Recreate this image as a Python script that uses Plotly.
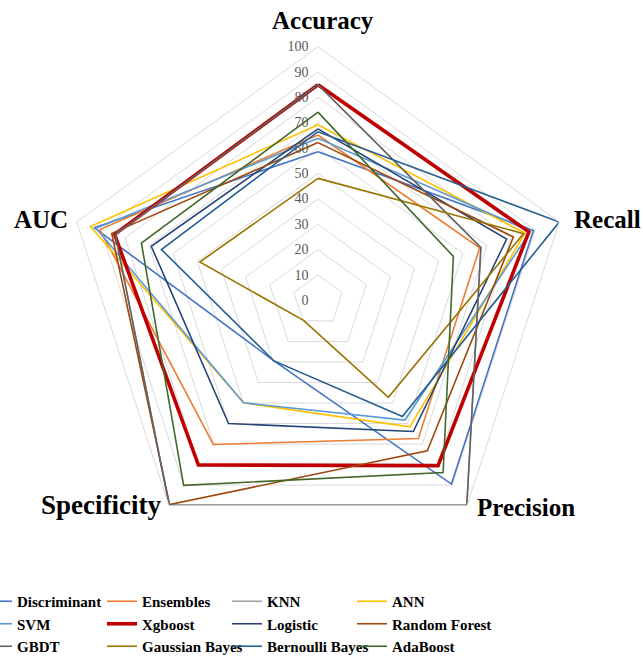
import plotly.graph_objects as go

axes = ["Accuracy", "Recall", "Precision", "Specificity", "AUC"]
radial_ticks = [0, 10, 20, 30, 40, 50, 60, 70, 80, 90, 100]

discriminant = [58.6, 89.3, 89.5, 29.5, 92.8]
ensembles = [65.2, 67.0, 67.3, 70.2, 90.4]
knn = [85.0, 67.5, 99.8, 99.8, 84.0]
ann = [69.2, 85.8, 61.6, 49.9, 94.3]
svm = [63.9, 88.0, 58.3, 49.9, 92.0]
xgboost = [85.0, 87.4, 80.5, 80.2, 84.3]
logistic = [67.6, 78.2, 63.9, 60.0, 69.1]
random_forest = [62.2, 81.0, 73.3, 99.5, 85.5]
gbdt = [85.0, 67.5, 99.8, 99.8, 84.0]
gaussian_bayes = [48.1, 85.2, 47.2, 9.7, 49.0]
bernoulli_bayes = [66.5, 100.0, 56.6, 29.5, 64.9]
adaboost = [74.2, 56.1, 83.9, 90.1, 73.2]

# (name, values, colour, width, legend column)
series = [
    ("Discriminant", discriminant, "#4472C4", 1.6, "legend"),
    ("Ensembles", ensembles, "#ED7D31", 1.6, "legend2"),
    ("KNN", knn, "#A5A5A5", 1.6, "legend3"),
    ("ANN", ann, "#FFC000", 1.6, "legend4"),
    ("SVM", svm, "#5B9BD5", 1.6, "legend"),
    ("Xgboost", xgboost, "#C00000", 3.6, "legend2"),
    ("Logistic", logistic, "#264478", 1.6, "legend3"),
    ("Random Forest", random_forest, "#9E480E", 1.6, "legend4"),
    ("GBDT", gbdt, "#636363", 1.6, "legend"),
    ("Gaussian Bayes", gaussian_bayes, "#997300", 1.6, "legend2"),
    ("Bernoulli Bayes", bernoulli_bayes, "#255E91", 1.6, "legend3"),
    ("AdaBoost", adaboost, "#43682B", 1.6, "legend4"),
]

fig = go.Figure()
for name, vals, color, width, leg in series:
    fig.add_trace(go.Scatterpolar(
        r=vals + vals[:1],
        theta=axes + axes[:1],
        mode="lines",
        name=name,
        legend=leg,
        line=dict(color=color, width=width),
    ))

serif = "Liberation Serif, Times New Roman, serif"
W, H = 643, 658
ML, MR, MT, MB = 0, 60, 0, 70
PW, PH = W - ML - MR, H - MT - MB


def px(x):
    return (x - ML) / PW


def py(y):
    return (H - MB - y) / PH


legend_font = dict(family=serif, size=15, color="black", weight="bold")
legend_top = 585
col_text_x = [17, 142, 267, 392]
legends = {}
for i, key in enumerate(["legend", "legend2", "legend3", "legend4"]):
    legends[key] = dict(
        orientation="v",
        x=px(col_text_x[i] - 40),
        xanchor="left",
        y=py(legend_top),
        yanchor="top",
        font=legend_font,
        bgcolor="rgba(0,0,0,0)",
        tracegroupgap=0,
    )

# category labels (axis titles) placed next to the pentagon vertices
label_pos = {
    "Accuracy": (323, 21, "center", 25),
    "Recall": (572, 220, "left", 25),
    "Precision": (475, 507, "left", 25),
    "Specificity": (163, 505, "right", 27),
    "AUC": (70, 220, "right", 25),
}
annotations = []
for name in axes:
    x, y, anchor, size = label_pos[name]
    annotations.append(dict(
        text=name, x=px(x), y=py(y), xref="paper", yref="paper",
        xanchor=anchor, yanchor="middle", showarrow=False,
        font=dict(family=serif, size=size, color="black", weight="bold"),
    ))

fig.update_layout(
    width=W,
    height=H,
    margin=dict(l=ML, r=MR, t=MT, b=MB, autoexpand=False),
    paper_bgcolor="white",
    plot_bgcolor="white",
    showlegend=True,
    annotations=annotations,
    polar=dict(
        domain=dict(x=[px(318 - 253.7), px(318 + 253.7)],
                    y=[py(300.4 + 253.7), py(300.4 - 253.7)]),
        bgcolor="white",
        gridshape="linear",
        radialaxis=dict(
            range=[0, 100],
            tickvals=radial_ticks,
            ticktext=[str(t) for t in radial_ticks],
            angle=90,
            tickangle=90,
            side="counterclockwise",
            showline=False,
            ticks="outside",
            ticklen=4,
            tickcolor="rgba(0,0,0,0)",
            gridcolor="#D9D9D9",
            gridwidth=1,
            tickfont=dict(family=serif, size=14, color="#595959"),
        ),
        angularaxis=dict(
            rotation=90,
            direction="clockwise",
            showgrid=False,
            showline=True,
            linecolor="#D9D9D9",
            linewidth=1,
            ticks="",
            showticklabels=False,
        ),
    ),
    **legends,
)

fig.write_html(
    "out.html",
    config={"displayModeBar": False},
    post_script="document.body.style.margin='0px';",
)
